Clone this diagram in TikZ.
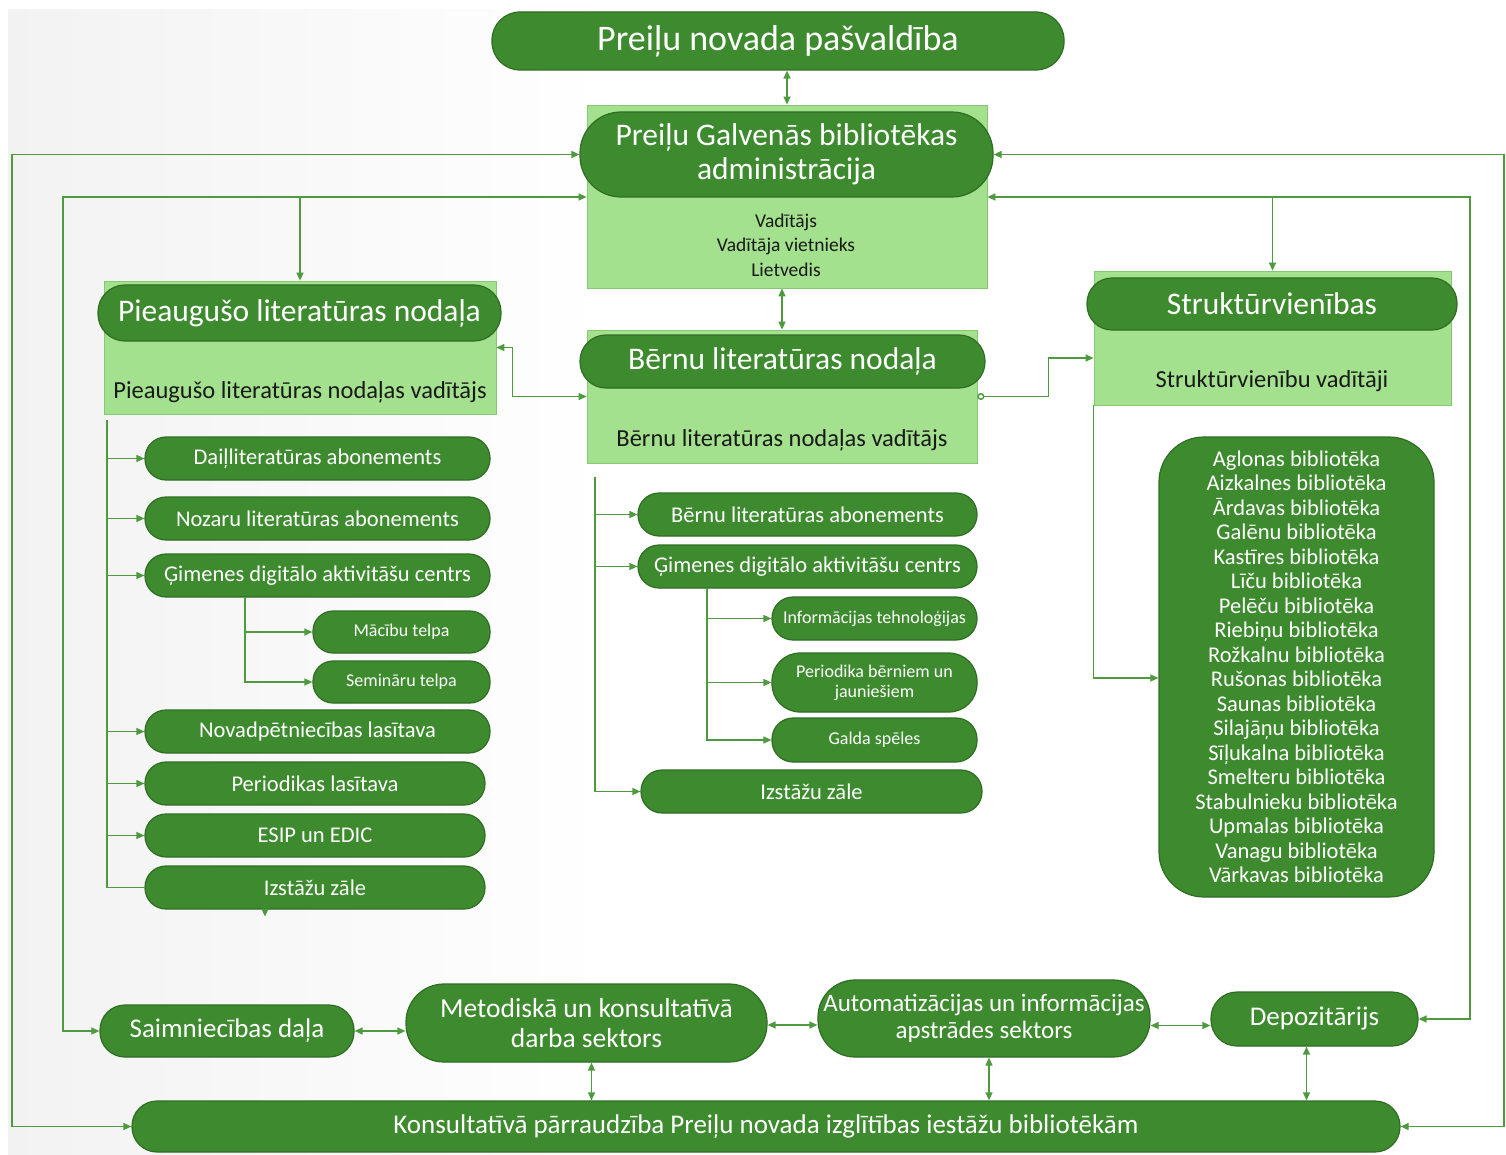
\documentclass[tikz,border=0pt]{standalone}
\usepackage{fontspec}
\setmainfont{Carlito}
\usetikzlibrary{arrows.meta,calc}
\definecolor{pg}{HTML}{3D8B2E}
\definecolor{pb}{HTML}{2E6E22}
\definecolor{lg}{HTML}{A3E18E}
\definecolor{lb}{HTML}{86C873}
\definecolor{lc}{HTML}{4E9A3E}
\definecolor{bgg}{HTML}{E2E2E2}
\pgfdeclarehorizontalshading{bgshade}{100bp}{color(0bp)=(bgg); color(45bp)=(white); color(100bp)=(white)}
\newcommand{\fs}[2]{\fontsize{#1}{#2}\selectfont}
\tikzset{
  pill/.style={draw=pb, fill=pg, text=white, line width=1.2pt, inner sep=0pt, align=center},
  lbox/.style={draw=lb, fill=lg, line width=0.8pt, inner sep=0pt},
  ln/.style={draw=lc, line width=1.4pt},
  arr/.style={ln, -{Triangle[length=8pt,width=7pt]}},
  dbl/.style={ln, {Triangle[length=8pt,width=7pt]}-{Triangle[length=8pt,width=7pt]}},
  ctext/.style={inner sep=0pt, align=center, text=black!90}
}
\begin{document}
\begin{tikzpicture}[x=1pt,y=-1pt]
\useasboundingbox (0,0) rectangle (1506,1155);
\fill[white] (0,0) rectangle (1506,1155);
\shade[shading=bgshade] (8,10) rectangle (1506,1155);

% light boxes
\node[lbox, minimum width=400, minimum height=183] (adminbox) at (787,196.5) {};
\node[lbox, minimum width=392, minimum height=133] (pbox) at (300,347.5) {};
\node[lbox, minimum width=390, minimum height=133] (bernbox) at (782,396.5) {};
\node[lbox, minimum width=357, minimum height=134] (sbox) at (1272.5,338) {};

% top
\node[pill, minimum width=572, minimum height=58, rounded corners=28, font=\fs{36}{40}] (top) at (778,41) {Preiļu novada pašvaldība};
\node[pill, minimum width=413, minimum height=85, rounded corners=41, font=\fs{31.5}{34}] (adminpill) at (786.5,154.5) {Preiļu Galvenās bibliotēkas\\administrācija};
\node[ctext, font=\fs{19.5}{24.5}] (admintext) at (786,245) {Vadītājs\\Vadītāja vietnieks\\Lietvedis};

\node[pill, minimum width=403, minimum height=56, rounded corners=27, font=\fs{31.5}{34}] (ppill) at (299.5,313) {Pieaugušo literatūras nodaļa};
\node[ctext, font=\fs{24.5}{28}] (ptext) at (300,392) {Pieaugušo literatūras nodaļas vadītājs};

\node[pill, minimum width=405, minimum height=53, rounded corners=26, font=\fs{31.5}{34}] (bpill) at (782.5,361.5) {Bērnu literatūras nodaļa};
\node[ctext, font=\fs{24.5}{28}] (btext) at (782,440) {Bērnu literatūras nodaļas vadītājs};

\node[pill, minimum width=370, minimum height=52, rounded corners=25, font=\fs{31.5}{34}] (spill) at (1272,304) {Struktūrvienības};
\node[ctext, font=\fs{24.5}{28}] (stext) at (1272,381) {Struktūrvienību vadītāji};

% Pieauguso children
\tikzset{ch/.style={pill, minimum height=43, rounded corners=21, font=\fs{22.5}{25}},
         sm/.style={pill, minimum width=177, minimum height=42, rounded corners=20, font=\fs{18}{20}},
         sm2/.style={pill, minimum width=205, minimum height=43, rounded corners=21, font=\fs{18}{20}}}
\node[ch, minimum width=345] (c1) at (317.5,458.5) {Daiļliteratūras abonements};
\node[ch, minimum width=345] (c2) at (317.5,518.5) {Nozaru literatūras abonements};
\node[ch, minimum width=345] (c3) at (317.5,575.5) {Ģimenes digitālo aktivitāšu centrs};
\node[sm] (m1) at (401.5,632) {Mācību telpa};
\node[sm] (m2) at (401.5,682) {Semināru telpa};
\node[ch, minimum width=345] (c4) at (317.5,731.5) {Novadpētniecības lasītava};
\node[ch, minimum width=340] (c5) at (315,783.5) {Periodikas lasītava};
\node[ch, minimum width=340] (c6) at (315,835.5) {ESIP un EDIC};
\node[ch, minimum width=340] (c7) at (315,887.5) {Izstāžu zāle};

% Bernu children
\node[ch, minimum width=339] (d1) at (807.5,514.5) {Bērnu literatūras abonements};
\node[ch, minimum width=339] (d2) at (807.5,566.5) {Ģimenes digitālo aktivitāšu centrs};
\node[sm2] (e1) at (874.5,618.5) {Informācijas tehnoloģijas};
\node[sm2, minimum height=59, rounded corners=28] (e2) at (874.5,682.5) {Periodika bērniem un\\jauniešiem};
\node[sm2, minimum height=44] (e3) at (874.5,740) {Galda spēles};
\node[ch, minimum width=341] (d3) at (811.5,791.5) {Izstāžu zāle};

% libraries
\node[pill, minimum width=275, minimum height=460, rounded corners=45, font=\fs{22.5}{24.5}] (libs) at (1296.5,667) {Aglonas bibliotēka\\Aizkalnes bibliotēka\\Ārdavas bibliotēka\\Galēnu bibliotēka\\Kastīres bibliotēka\\Līču bibliotēka\\Pelēču bibliotēka\\Riebiņu bibliotēka\\Rožkalnu bibliotēka\\Rušonas bibliotēka\\Saunas bibliotēka\\Silajāņu bibliotēka\\Sīļukalna bibliotēka\\Smelteru bibliotēka\\Stabulnieku bibliotēka\\Upmalas bibliotēka\\Vanagu bibliotēka\\Vārkavas bibliotēka};

% bottom row
\node[pill, minimum width=254, minimum height=52, rounded corners=25, font=\fs{27}{30}] (saim) at (227,1031) {Saimniecības daļa};
\node[pill, minimum width=361, minimum height=78, rounded corners=38, font=\fs{27.5}{29.5}] (metod) at (586.5,1023) {Metodiskā un konsultatīvā\\darba sektors};
\node[pill, minimum width=332, minimum height=77, rounded corners=37, font=\fs{25}{27}] (autom) at (984,1018.5) {Automatizācijas un informācijas\\apstrādes sektors};
\node[pill, minimum width=207, minimum height=54, rounded corners=26, font=\fs{27}{30}] (depo) at (1314.5,1019) {Depozitārijs};
\node[pill, minimum width=1268, minimum height=51, rounded corners=25, font=\fs{27}{30}] (kons) at (766,1126.5) {Konsultatīvā pārraudzība Preiļu novada izglītības iestāžu bibliotēkām};

% coordinates
\coordinate (oL) at (12,158);
\coordinate (oR) at (1504,158);
\coordinate (L2) at (63,197);
\coordinate (R2) at (1470,197);
\coordinate (pt) at (107,420);
\coordinate (ps) at (245,597);
\coordinate (bt) at (595,477);
\coordinate (bs) at (707,588);

% connectors
\draw[dbl] (top.south -| adminbox.north) -- (adminbox.north);
\draw[dbl] (adminbox.south -| bernbox.north) -- (bernbox.north);
\draw[dbl] (adminpill.west) -- (adminpill.west -| oL) -- (kons.west -| oL) -- (kons.west);
\draw[dbl] (adminpill.east) -- (adminpill.east -| oR) -- (kons.east -| oR) -- (kons.east);
\draw[dbl] (saim.west) -- (saim.west -| L2) -- (L2) -- (L2 -| adminbox.west);
\draw[arr] (L2 -| pbox.north) -- (pbox.north);
\draw[dbl] (depo.east) -- (depo.east -| R2) -- (R2) -- (R2 -| adminbox.east);
\draw[arr] (R2 -| sbox.north) -- (sbox.north);
\draw[dbl] (pbox.east) -- ++(16,0) |- (bernbox.west);
\draw[ln, {Circle[open,fill=white,length=7pt,width=7pt]}-{Triangle[length=8pt,width=7pt]}] (bernbox.east) -- ++(71,0) |- ($(sbox.west)+(0,20)$);
\draw[arr] (sbox.south west) |- ($(libs.west)+(0,11)$);

\foreach \n in {c1,c2,c3,c4,c5,c6} \draw[arr] (pt) |- (\n.west);
\draw[ln] (pt) |- (c7.west);
\draw[arr] ($(c7.south)+(-50,0)$) -- ++(0,7);
\draw[arr] (ps) |- (m1.west);
\draw[arr] (ps) |- (m2.west);

\foreach \n in {d1,d2,d3} \draw[arr] (bt) |- (\n.west);
\foreach \n in {e1,e2,e3} \draw[arr] (bs) |- (\n.west);

\draw[dbl] (saim.east) -- (saim.east -| metod.west);
\draw[dbl] ($(metod.east)+(0,2)$) -- ($(metod.east -| autom.west)+(0,2)$);
\draw[dbl] ($(autom.east)+(0,7)$) -- ($(autom.east -| depo.west)+(0,7)$);
\draw[dbl] ($(metod.south)+(5,0)$) -- ($(metod.south |- kons.north)+(5,0)$);
\draw[dbl] ($(autom.south)+(5,0)$) -- ($(autom.south |- kons.north)+(5,0)$);
\draw[dbl] ($(depo.south)+(-8,0)$) -- ($(depo.south |- kons.north)+(-8,0)$);
\end{tikzpicture}
\end{document}
